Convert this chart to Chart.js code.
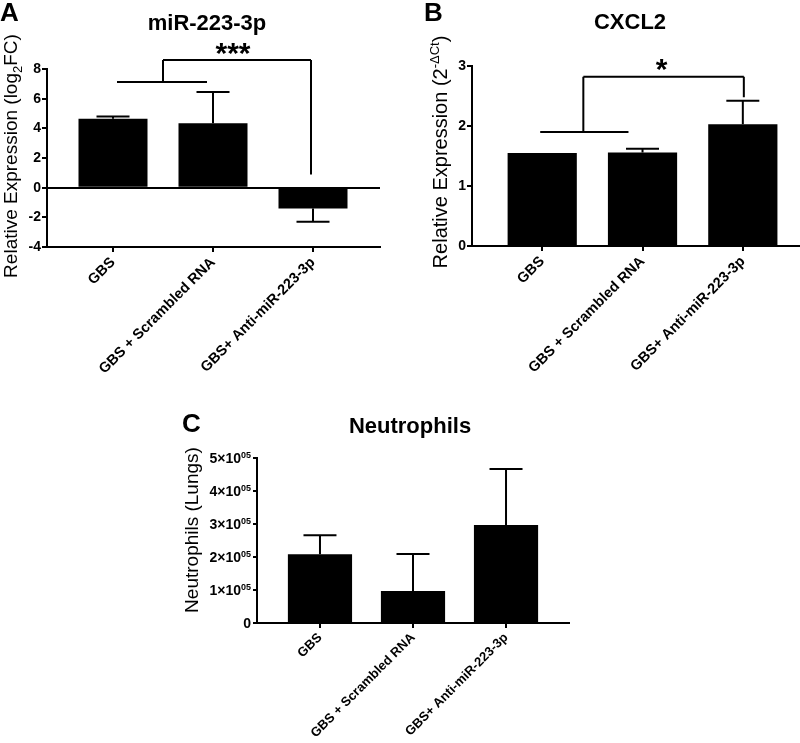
<!DOCTYPE html>
<html>
<head>
<meta charset="utf-8">
<script src="https://cdn.jsdelivr.net/npm/chart.js@4.4.0/dist/chart.umd.min.js"></script>
<style>
body { margin: 0; background: #fff; width: 800px; height: 743px; position: relative; overflow: hidden; }
canvas { position: absolute; }
</style>
</head>
<body>
<canvas id="panneauA" width="400" height="390" style="left:0;top:0"></canvas>
<canvas id="panneauB" width="400" height="390" style="left:400px;top:0"></canvas>
<canvas id="panneauC" width="400" height="353" style="left:180px;top:390px"></canvas>
<script>
// donnees
const groupes = ['GBS', 'GBS + Scrambled RNA', 'GBS+ Anti-miR-223-3p'];
const positions = [0, 1, 2];

const mirMoy = [4.65, 4.35, -1.4];
const mirErr = [0.15, 2.1, 0.9];

const cxclMoy = [1.55, 1.56, 2.03];
const cxclErr = [0, 0.06, 0.39];

const neutroMoy = [208000, 97000, 297000];
const neutroErr = [58000, 112000, 170000];

Chart.defaults.font.family = '"Liberation Sans", Arial, sans-serif';
Chart.defaults.color = '#000';

const POLICE = '"Liberation Sans", Arial, sans-serif';

function police(m) {
  return (m.gras ? 'bold ' : '') + m.taille + 'px ' + POLICE;
}

// ecrit des morceaux de texte de tailles differentes (indices, exposants)
function texteRiche(ctx, morceaux, x, y, align) {
  let total = 0;
  for (let m of morceaux) {
    ctx.font = police(m);
    m.w = ctx.measureText(m.t).width;
    total += m.w;
  }
  let cx = x;
  if (align === 'center') cx = x - total / 2;
  if (align === 'right') cx = x - total;
  ctx.textAlign = 'left';
  ctx.textBaseline = 'alphabetic';
  for (let m of morceaux) {
    ctx.font = police(m);
    ctx.fillText(m.t, cx, y + (m.dy || 0));
    cx += m.w;
  }
}

function habillage(decor) {
  return {
    id: 'habillage',
    afterDraw(chart) {
      const ctx = chart.ctx;
      const xs = chart.scales.x, ys = chart.scales.y;
      ctx.save();
      ctx.fillStyle = '#000';
      ctx.strokeStyle = '#000';
      ctx.lineWidth = 2;

      // barres d'erreur
      const ds = chart.data.datasets[0];
      const meta = chart.getDatasetMeta(0);
      meta.data.forEach((barre, i) => {
        const m = ds.data[i].y, e = ds.erreurs[i];
        if (!e) return;
        const bout = m >= 0 ? m + e : m - e;
        const y0 = ys.getPixelForValue(m), y1 = ys.getPixelForValue(bout);
        ctx.beginPath();
        ctx.moveTo(barre.x, y0); ctx.lineTo(barre.x, y1);
        ctx.moveTo(barre.x - 16.5, y1); ctx.lineTo(barre.x + 16.5, y1);
        ctx.stroke();
      });

      // crochet de significativite
      if (decor.crochet) {
        ctx.beginPath();
        for (let s of decor.crochet) {
          ctx.moveTo(xs.getPixelForValue(s[0]), ys.getPixelForValue(s[1]));
          ctx.lineTo(xs.getPixelForValue(s[2]), ys.getPixelForValue(s[3]));
        }
        ctx.stroke();
      }
      if (decor.etoiles) {
        ctx.font = 'bold 30px ' + POLICE;
        ctx.textAlign = 'center';
        ctx.textBaseline = 'alphabetic';
        ctx.fillText(decor.etoiles.t, xs.getPixelForValue(decor.etoiles.x), ys.getPixelForValue(decor.etoiles.y));
      }

      // lettre du panneau et titre
      ctx.textBaseline = 'alphabetic';
      ctx.font = 'bold 26px ' + POLICE;
      ctx.textAlign = 'left';
      ctx.fillText(decor.lettre.t, decor.lettre.x, decor.lettre.y);
      ctx.font = 'bold 22px ' + POLICE;
      ctx.textAlign = 'center';
      ctx.fillText(decor.titre.t, decor.titre.x, decor.titre.y);

      // titre de l'axe y, tourne
      ctx.save();
      ctx.translate(decor.axeY.x, decor.axeY.y);
      ctx.rotate(-Math.PI / 2);
      texteRiche(ctx, decor.axeY.morceaux, 0, 0, 'center');
      ctx.restore();

      // etiquettes 1x10^05 du panneau C
      if (decor.exposants) {
        for (let t of ys.ticks) {
          const py = ys.getPixelForValue(t.value);
          let morceaux;
          if (t.value === 0) {
            morceaux = [{t: '0', taille: 14, gras: true}];
          } else {
            morceaux = [{t: (t.value / 100000) + '×10', taille: 14, gras: true},
                        {t: '05', taille: 9, gras: true, dy: -5}];
          }
          texteRiche(ctx, morceaux, ys.right - 6, py + 5, 'right');
        }
      }
      ctx.restore();
    }
  };
}

function options(cfg) {
  return {
    responsive: false,
    animation: false,
    devicePixelRatio: 1,
    layout: { padding: cfg.padding },
    plugins: { legend: { display: false }, tooltip: { enabled: false } },
    scales: {
      x: {
        type: 'linear',
        min: cfg.xmin,
        max: cfg.xmax,
        offset: false,
        afterBuildTicks: (s) => { s.ticks = positions.map(v => ({ value: v })); },
        afterFit: (s) => { s.height = cfg.hauteurX; },
        border: { color: '#000', width: 2 },
        grid: { offset: false, drawOnChartArea: false, drawTicks: true, tickLength: 5, color: '#000', lineWidth: 2 },
        ticks: {
          autoSkip: false,
          maxRotation: 45,
          minRotation: 45,
          padding: 2,
          color: '#000',
          font: { size: cfg.policeX, weight: 'bold' },
          callback: (v) => groupes[v]
        }
      },
      y: {
        min: cfg.ymin,
        max: cfg.ymax,
        afterFit: (s) => { s.width = cfg.largeurY; },
        border: { color: '#000', width: 2 },
        grid: {
          drawTicks: true,
          tickLength: cfg.tickY,
          tickColor: '#000',
          tickWidth: 2,
          lineWidth: 2,
          color: (c) => (c.tick && c.tick.value === 0 && cfg.ligneZero) ? '#000' : 'rgba(0,0,0,0)'
        },
        ticks: {
          display: !cfg.exposants,
          stepSize: cfg.pas,
          padding: 1,
          color: '#000',
          font: { size: 14, weight: 'bold' }
        }
      }
    }
  };
}

function diagramme(id, moy, err, cfg, decor) {
  return new Chart(document.getElementById(id), {
    type: 'bar',
    data: {
      datasets: [{
        data: positions.map((p, i) => ({ x: p, y: moy[i] })),
        erreurs: err,
        backgroundColor: '#000',
        borderWidth: 0,
        barPercentage: 0.69,
        categoryPercentage: 1
      }]
    },
    options: options(cfg),
    plugins: [habillage(decor)]
  });
}

diagramme('panneauA', mirMoy, mirErr,
  { padding: { left: 0, right: 20, top: 69, bottom: 0 }, largeurY: 47, hauteurX: 143, policeX: 14.5,
    xmin: -0.66, xmax: 2.67, ymin: -4, ymax: 8, pas: 2, tickY: 5, ligneZero: true },
  {
    lettre: { t: 'A', x: 0, y: 21 },
    titre: { t: 'miR-223-3p', x: 207, y: 30 },
    axeY: { x: 17, y: 156, morceaux: [
      { t: 'Relative Expression (log', taille: 19 },
      { t: '2', taille: 13, dy: 5 },
      { t: 'FC)', taille: 19 }] },
    crochet: [[0.04, 7.12, 0.94, 7.12], [0.5, 7.12, 0.5, 8.61], [0.5, 8.61, 1.98, 8.61], [1.98, 8.61, 1.98, 0.88]],
    etoiles: { t: '***', x: 1.2, y: 8.4 }
  });

diagramme('panneauB', cxclMoy, cxclErr,
  { padding: { left: 0, right: 0, top: 66, bottom: 0 }, largeurY: 72, hauteurX: 144, policeX: 14.5,
    xmin: -0.70, xmax: 2.57, ymin: 0, ymax: 3, pas: 1, tickY: 5, ligneZero: false },
  {
    lettre: { t: 'B', x: 24, y: 21 },
    titre: { t: 'CXCL2', x: 230, y: 29 },
    axeY: { x: 47, y: 152, morceaux: [
      { t: 'Relative Expression (2', taille: 20 },
      { t: '-ΔCt', taille: 13, dy: -8 },
      { t: ')', taille: 20 }] },
    crochet: [[-0.02, 1.9, 0.86, 1.9], [0.41, 1.9, 0.41, 2.82], [0.41, 2.82, 2.01, 2.82], [2.01, 2.82, 2.01, 2.48]],
    etoiles: { t: '*', x: 1.19, y: 2.78 }
  });

diagramme('panneauC', neutroMoy, neutroErr,
  { padding: { left: 0, right: 11, top: 68, bottom: 0 }, largeurY: 77, hauteurX: 120, policeX: 13,
    xmin: -0.677, xmax: 2.677, ymin: 0, ymax: 500000, pas: 100000, tickY: 4, ligneZero: false, exposants: true },
  {
    lettre: { t: 'C', x: 2, y: 42 },
    titre: { t: 'Neutrophils', x: 230, y: 43 },
    axeY: { x: 18, y: 140, morceaux: [{ t: 'Neutrophils (Lungs)', taille: 19 }] },
    exposants: true
  });
</script>
</body>
</html>
